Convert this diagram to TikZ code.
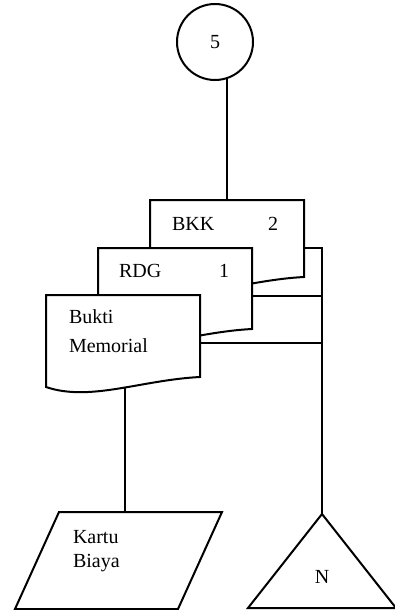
\documentclass[tikz,border=0pt]{standalone}
\usepackage{fontspec}
\setmainfont{Liberation Serif}

\begin{document}
\begin{tikzpicture}[x=1pt, y=-1pt, line width=2pt,
    txt/.style={font=\fontsize{20}{24}\selectfont, inner sep=0pt},
    docbox/.style={minimum width=152pt, minimum height=90pt, inner sep=0pt, anchor=north west},
    docline/.style={fill=white, line join=miter}]
    \useasboundingbox (0,0) rectangle (395,610);

    % off-page connector
    \node[circle, draw, minimum size=76pt, txt] (c5) at (215,42) {5};

    % documents, back to front
    \node[docbox, minimum height=85pt] (bkk) at (150,200) {};
    \node[docbox, minimum height=89pt] (rdg) at (98,248) {};
    \node[docbox] (bukti) at (46,295) {};
    \foreach \d in {bkk,rdg,bukti}
      \draw[docline] (\d.north west) -- (\d.north east) -- ([yshift=10pt]\d.south east)
        .. controls +(-59,3) and +(44,15) .. coordinate[pos=0.45] (\d-w) (\d.south west) -- cycle;

    % document labels
    \node[txt, anchor=base west] (bkk-t) at ([xshift=21pt, yshift=-30pt]bkk.north west) {BKK};
    \node[txt, anchor=base west] (bkk-n) at ([xshift=117pt, yshift=-30pt]bkk.north west) {2};
    \node[txt, anchor=base west] (rdg-t) at ([xshift=20pt, yshift=-29pt]rdg.north west) {RDG};
    \node[txt, anchor=base west] (rdg-n) at ([xshift=120pt, yshift=-29pt]rdg.north west) {1};
    \node[txt, anchor=base west] (bukti-t1) at ([xshift=22pt, yshift=-28pt]bukti.north west) {Bukti};
    \node[txt, anchor=base west] (bukti-t2) at ([xshift=22pt, yshift=-57pt]bukti.north west) {Memorial};

    % card
    \node[minimum width=205pt, minimum height=95pt, inner sep=0pt, anchor=north west] (kartu) at (15,512) {};
    \draw[line join=miter] ([xshift=44pt]kartu.north west) -- (kartu.north east)
      -- ([xshift=-44pt]kartu.south east) -- (kartu.south west) -- cycle;
    \node[txt, anchor=base west] (kartu-t1) at ([xshift=57pt, yshift=-31pt]kartu.north west) {Kartu};
    \node[txt, anchor=base west] (kartu-t2) at ([xshift=57pt, yshift=-55pt]kartu.north west) {Biaya};

    % file
    \node[minimum width=146pt, minimum height=92pt, inner sep=0pt, anchor=north west] (tri) at (248,514) {};
    \draw[line join=miter] (tri.north) -- (tri.south east) -- (tri.south west) -- cycle;
    \node[txt] (n) at ([yshift=-16pt]tri.center) {N};

    % flow lines
    \draw (c5.-72) -- (c5.-72 |- bkk.north);
    \draw (bukti-w) -- (bukti-w |- kartu.north);
    \coordinate (jb) at ([yshift=-48pt]bkk.north east);
    \coordinate (jr) at ([yshift=-48pt]rdg.north east);
    \coordinate (jk) at ([yshift=-48pt]bukti.north east);
    \draw (jb) -- (jb -| tri.north) -- (tri.north);
    \draw (jr) -- (jr -| tri.north);
    \draw (jk) -- (jk -| tri.north);
\end{tikzpicture}
\end{document}
